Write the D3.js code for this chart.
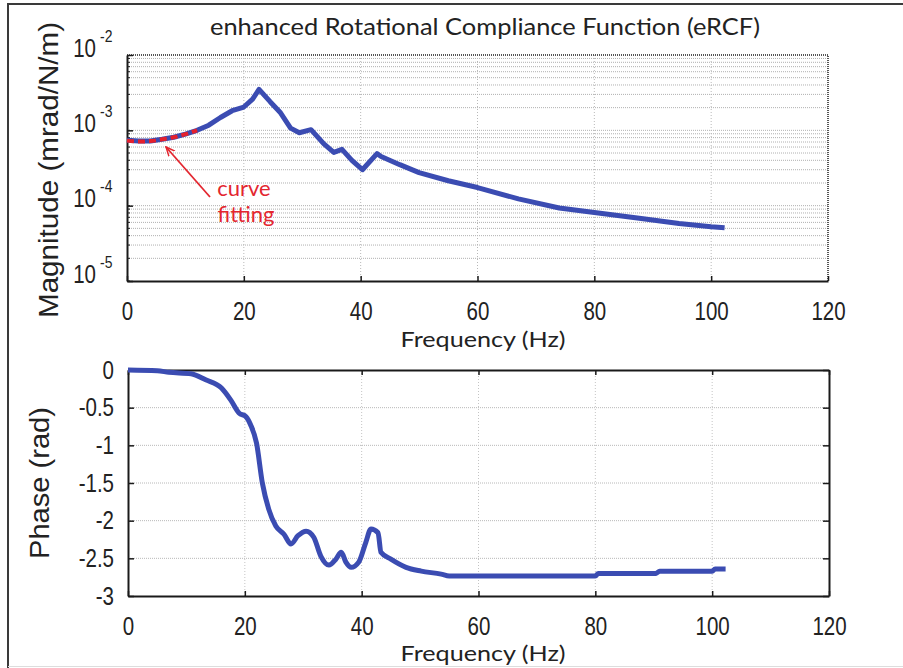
<!DOCTYPE html>
<html>
<head>
<meta charset="utf-8">
<script src="https://cdn.jsdelivr.net/npm/d3@7"></script>
<style>
body { margin: 0; background: #fff; }
svg { display: block; }
</style>
</head>
<body>
<div id="chart"></div>
<script>
var width = 903;
var height = 668;

// tick values
var xTicks = [0, 20, 40, 60, 80, 100, 120];
var magDecades = [1e-5, 1e-4, 1e-3, 1e-2];
var phaseTicks = [0, -0.5, -1, -1.5, -2, -2.5, -3];
var phaseTickLabels = ["0", "-0.5", "-1", "-1.5", "-2", "-2.5", "-3"];

// magnitude (mrad/N/m)
var magFreq = [0, 2, 4, 6, 8, 10, 12, 14, 16, 18, 20, 21.5, 22.6, 24.5, 26.2, 28, 29.5, 31.5, 33.7, 35.4, 36.8, 38.5, 40.3, 42.8, 43.5, 46.7, 50, 55, 60, 67, 74, 80, 87.7, 94.5, 100, 102.3];
var magValues = [7.4e-4, 7.2e-4, 7.2e-4, 7.6e-4, 8.1e-4, 8.9e-4, 1.0e-3, 1.17e-3, 1.48e-3, 1.82e-3, 2.04e-3, 2.6e-3, 3.5e-3, 2.4e-3, 1.74e-3, 1.07e-3, 9.3e-4, 1.02e-3, 6.6e-4, 5.1e-4, 5.6e-4, 4.0e-4, 3.0e-4, 4.9e-4, 4.5e-4, 3.5e-4, 2.75e-4, 2.14e-4, 1.74e-4, 1.23e-4, 9.3e-5, 8.1e-5, 6.8e-5, 5.8e-5, 5.25e-5, 5.1e-5];

// curve fitting (red dashed)
var fitFreq = [0, 2, 4, 6, 8, 10, 12];
var fitValues = [7.3e-4, 7.1e-4, 7.2e-4, 7.6e-4, 8.1e-4, 8.9e-4, 1.0e-3];

// phase (rad)
var phaseFreq = [0, 5, 7, 10.8, 13.3, 16, 17.6, 19, 20.2, 21, 22, 23, 24.1, 25.3, 26.7, 27.9, 29.1, 30.5, 31.8, 33, 34.4, 35.6, 36.5, 37.3, 38.2, 39.5, 40.7, 41.6, 42.8, 43.3, 45, 47.6, 50.2, 53.6, 55, 80, 80.5, 90.4, 91, 100, 100.5, 102.3];
var phaseValues = [0, -0.01, -0.03, -0.05, -0.13, -0.24, -0.40, -0.57, -0.62, -0.73, -0.97, -1.5, -1.85, -2.07, -2.18, -2.31, -2.2, -2.14, -2.22, -2.47, -2.59, -2.51, -2.42, -2.55, -2.62, -2.55, -2.29, -2.11, -2.16, -2.42, -2.51, -2.62, -2.67, -2.71, -2.735, -2.735, -2.70, -2.70, -2.67, -2.67, -2.64, -2.64];

var tickFont = '"Liberation Sans", Arial, sans-serif';
var labelFont = '"Liberation Sans", Arial, sans-serif';
var textFont = 'Lato, "Open Sans", sans-serif';
var lineColor = "#3b4cb2";

var svg = d3.select("#chart")
    .append("svg")
    .attr("width", width)
    .attr("height", height);

// frame of the figure
svg.append("path")
    .attr("d", "M8,668V4H903")
    .attr("fill", "none")
    .attr("stroke", "#3a3a3a")
    .attr("stroke-width", 2);
svg.append("line")
    .attr("x1", 8).attr("x2", 903)
    .attr("y1", 666.5).attr("y2", 666.5)
    .attr("stroke", "#ddd");

svg.append("text")
    .attr("x", 485)
    .attr("y", 35)
    .attr("text-anchor", "middle")
    .style("font-family", textFont)
    .style("font-size", "24px")
    .attr("fill", "#222")
    .attr("textLength", 550)
    .attr("lengthAdjust", "spacingAndGlyphs")
    .text("enhanced Rotational Compliance Function (eRCF)");

// ---------- magnitude panel ----------
var x1 = d3.scaleLinear().domain([0, 120]).range([127, 828]);
var y1 = d3.scaleLog().domain([1e-5, 1e-2]).range([281, 55]);

var minorVals = [];
[1e-5, 1e-4, 1e-3].forEach(function(d) {
    for (var k = 1; k < 10; k++) minorVals.push(d * k);
});

var g1 = svg.append("g");

g1.selectAll("line.hgrid")
    .data(minorVals.filter(function(d) { return d > 1e-5; }))
    .enter().append("line")
    .attr("class", "hgrid")
    .attr("x1", x1(0)).attr("x2", x1(120))
    .attr("y1", function(d) { return y1(d); })
    .attr("y2", function(d) { return y1(d); })
    .attr("stroke", "#b0b0b0")
    .attr("stroke-width", 1)
    .attr("stroke-dasharray", "1,1");

g1.selectAll("line.vgrid")
    .data(xTicks.slice(1, -1))
    .enter().append("line")
    .attr("class", "vgrid")
    .attr("x1", function(d) { return x1(d); })
    .attr("x2", function(d) { return x1(d); })
    .attr("y1", y1(1e-2)).attr("y2", y1(1e-5))
    .attr("stroke", "#b8b8b8")
    .attr("stroke-dasharray", "1,2");

// top and right edges are dotted
g1.append("path")
    .attr("d", "M" + x1(0) + "," + y1(1e-2) + "H" + x1(120) + "V" + y1(1e-5))
    .attr("fill", "none")
    .attr("stroke", "#555")
    .attr("stroke-width", 2)
    .attr("stroke-dasharray", "1,1");

// minor ticks on the left
g1.selectAll("line.mtick")
    .data(minorVals)
    .enter().append("line")
    .attr("x1", x1(0)).attr("x2", x1(0) + 3)
    .attr("y1", function(d) { return y1(d); })
    .attr("y2", function(d) { return y1(d); })
    .attr("stroke", "#222");

g1.append("g")
    .attr("transform", "translate(0," + y1(1e-5) + ")")
    .call(d3.axisBottom(x1).tickValues(xTicks).tickSize(-5).tickSizeOuter(0).tickPadding(21).tickFormat(d3.format("d")));

var yAxis1 = g1.append("g")
    .attr("transform", "translate(" + x1(0) + ",0)")
    .call(d3.axisLeft(y1).tickValues(magDecades).tickSize(-6).tickSizeOuter(0).tickPadding(31).tickFormat(function() { return "10"; }));

g1.append("text")
    .attr("transform", "translate(58,170) rotate(-90)")
    .attr("text-anchor", "middle")
    .style("font-family", labelFont)
    .style("font-size", "27px")
    .attr("fill", "#222")
    .attr("textLength", 296)
    .attr("lengthAdjust", "spacingAndGlyphs")
    .text("Magnitude (mrad/N/m)");

g1.append("text")
    .attr("x", 483)
    .attr("y", 347)
    .attr("text-anchor", "middle")
    .style("font-family", textFont)
    .style("font-size", "22px")
    .attr("fill", "#222")
    .attr("textLength", 165)
    .attr("lengthAdjust", "spacingAndGlyphs")
    .text("Frequency (Hz)");

var magLine = d3.line()
    .x(function(d) { return x1(d[0]); })
    .y(function(d) { return y1(d[1]); });

g1.append("path")
    .datum(d3.zip(magFreq, magValues))
    .attr("fill", "none")
    .attr("stroke", lineColor)
    .attr("stroke-width", 5)
    .attr("stroke-linejoin", "round")
    .attr("d", magLine);

g1.append("path")
    .datum(d3.zip(fitFreq, fitValues))
    .attr("fill", "none")
    .attr("stroke", "#e5202c")
    .attr("stroke-width", 4)
    .attr("stroke-dasharray", "7,4")
    .attr("d", magLine.curve(d3.curveMonotoneX));

// annotation
var red = "#e3262f";
svg.append("defs").append("marker")
    .attr("id", "arrow")
    .attr("viewBox", "0 0 10 10")
    .attr("refX", 9).attr("refY", 5)
    .attr("markerWidth", 10).attr("markerHeight", 10)
    .attr("markerUnits", "userSpaceOnUse")
    .attr("orient", "auto")
    .append("path")
    .attr("d", "M0,1L9,5L0,9")
    .attr("fill", "none")
    .attr("stroke", red)
    .attr("stroke-width", 1.5);

g1.append("line")
    .attr("x1", 210).attr("y1", 197)
    .attr("x2", 166).attr("y2", 147)
    .attr("stroke", red)
    .attr("stroke-width", 1.8)
    .attr("marker-end", "url(#arrow)");

g1.append("text")
    .attr("x", 244).attr("y", 196)
    .attr("text-anchor", "middle")
    .style("font-family", textFont)
    .style("font-size", "22px")
    .attr("fill", red)
    .text("curve");
g1.append("text")
    .attr("x", 246).attr("y", 222)
    .attr("text-anchor", "middle")
    .style("font-family", textFont)
    .style("font-size", "22px")
    .attr("fill", red)
    .text("fitting");

// ---------- phase panel ----------
var x2 = d3.scaleLinear().domain([0, 120]).range([128, 829]);
var y2 = d3.scaleLinear().domain([-3, 0]).range([596, 370]);

var g2 = svg.append("g");

g2.selectAll("line.hgrid")
    .data(phaseTicks.slice(1, -1))
    .enter().append("line")
    .attr("x1", x2(0)).attr("x2", x2(120))
    .attr("y1", function(d) { return y2(d); })
    .attr("y2", function(d) { return y2(d); })
    .attr("stroke", "#b8b8b8")
    .attr("stroke-dasharray", "1,1");

g2.selectAll("line.vgrid")
    .data(xTicks.slice(1, -1))
    .enter().append("line")
    .attr("x1", function(d) { return x2(d); })
    .attr("x2", function(d) { return x2(d); })
    .attr("y1", y2(0)).attr("y2", y2(-3))
    .attr("stroke", "#c4c4c4")
    .attr("stroke-dasharray", "1,2");

g2.append("g")
    .attr("transform", "translate(0," + y2(0) + ")")
    .call(d3.axisTop(x2).tickValues(xTicks).tickSize(-5).tickSizeOuter(0).tickFormat(""));
g2.append("g")
    .attr("transform", "translate(" + x2(120) + ",0)")
    .call(d3.axisRight(y2).tickValues(phaseTicks).tickSize(-6).tickSizeOuter(0).tickFormat(""));

g2.append("g")
    .attr("transform", "translate(0," + y2(-3) + ")")
    .call(d3.axisBottom(x2).tickValues(xTicks).tickSize(-5).tickSizeOuter(0).tickPadding(21).tickFormat(d3.format("d")));

g2.append("g")
    .attr("transform", "translate(" + x2(0) + ",0)")
    .call(d3.axisLeft(y2).tickValues(phaseTicks).tickSize(-6).tickSizeOuter(0).tickPadding(14)
        .tickFormat(function(d, i) { return phaseTickLabels[i]; }));

g2.append("text")
    .attr("transform", "translate(49,483) rotate(-90)")
    .attr("text-anchor", "middle")
    .style("font-family", labelFont)
    .style("font-size", "27px")
    .attr("fill", "#222")
    .attr("textLength", 152)
    .attr("lengthAdjust", "spacingAndGlyphs")
    .text("Phase (rad)");

g2.append("text")
    .attr("x", 483)
    .attr("y", 661)
    .attr("text-anchor", "middle")
    .style("font-family", textFont)
    .style("font-size", "22px")
    .attr("fill", "#222")
    .attr("textLength", 165)
    .attr("lengthAdjust", "spacingAndGlyphs")
    .text("Frequency (Hz)");

var phaseLine = d3.line()
    .curve(d3.curveMonotoneX)
    .x(function(d) { return x2(d[0]); })
    .y(function(d) { return y2(d[1]); });

g2.append("path")
    .datum(d3.zip(phaseFreq, phaseValues))
    .attr("fill", "none")
    .attr("stroke", lineColor)
    .attr("stroke-width", 5)
    .attr("stroke-linejoin", "round")
    .attr("d", phaseLine);

// common axis styling
svg.selectAll(".domain")
    .attr("stroke", "#1a1a1a")
    .attr("stroke-width", 2);
svg.selectAll(".tick line")
    .attr("stroke", "#1a1a1a")
    .attr("stroke-width", 1.5);
svg.selectAll(".tick text")
    .attr("fill", "#222")
    .style("font-family", tickFont)
    .style("font-size", "25px");

// decade labels: "10" from the axis, exponent as its own text
yAxis1.selectAll(".tick text").attr("y", -7);
yAxis1.selectAll(".tick")
    .append("text")
    .attr("x", -27)
    .attr("y", -14)
    .attr("text-anchor", "start")
    .attr("fill", "#222")
    .style("font-family", tickFont)
    .style("font-size", "17px")
    .text(function(d) { return Math.round(Math.log10(d)); });

// squeeze tick labels to look like a narrow face
svg.selectAll(".tick text").each(function() {
    var w = this.getComputedTextLength();
    if (w > 0) {
        d3.select(this)
            .attr("textLength", w * 0.82)
            .attr("lengthAdjust", "spacingAndGlyphs");
    }
});
</script>
</body>
</html>
